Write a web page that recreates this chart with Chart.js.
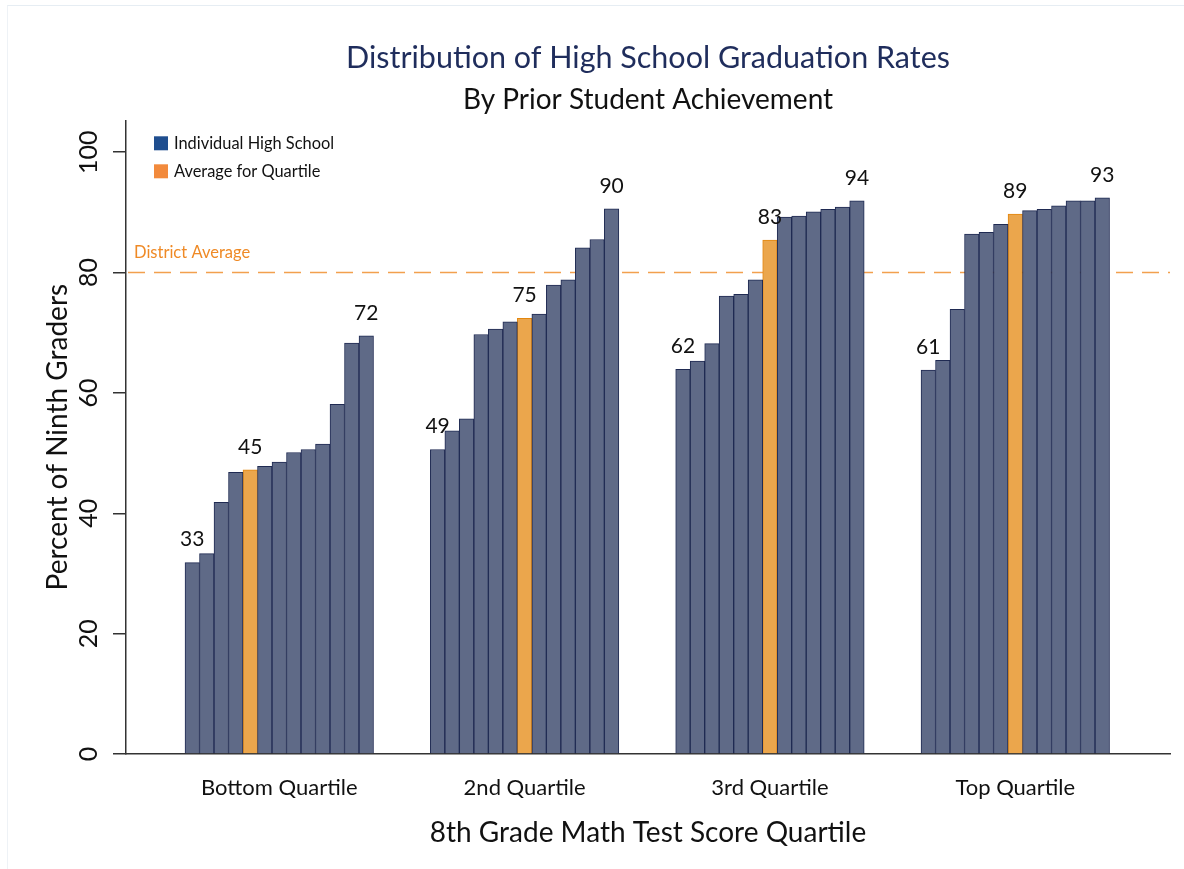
<!DOCTYPE html>
<html lang="en">
<head>
    <meta charset="UTF-8">
    <title>Distribution of High School Graduation Rates</title>
    <script src="https://cdn.jsdelivr.net/npm/chart.js"></script>
    <style>
        body { margin: 0; background: #fff; }
        .wrap { position: relative; width: 1184px; height: 869px; }
        .frame { position: absolute; left: 7px; top: 5px; right: 0; bottom: 0;
                 border-top: 1px solid #e6edf3; border-left: 1px solid #eef2f6; pointer-events: none; }
    </style>
</head>
<body>
<div class="wrap">
    <canvas id="chart"></canvas>
    <div class="frame"></div>
</div>

<script>
    // Graduation rates per school, sorted within each quartile
    const quartiles = ['Bottom Quartile', '2nd Quartile', '3rd Quartile', 'Top Quartile'];
    const bottomRates = [31.8, 33.3, 41.8, 46.8, 47.2, 47.8, 48.5, 50.1, 50.6, 51.5, 58.1, 68.3, 69.5];
    const secondRates = [50.6, 53.7, 55.7, 69.7, 70.6, 71.8, 72.4, 73.1, 77.9, 78.8, 84.1, 85.5, 90.6];
    const thirdRates  = [63.9, 65.3, 68.2, 76.1, 76.4, 78.8, 85.4, 89.2, 89.4, 90.1, 90.5, 90.9, 91.9];
    const topRates    = [63.8, 65.4, 73.9, 86.4, 86.7, 88.0, 89.7, 90.3, 90.5, 91.1, 91.9, 91.9, 92.4];
    const averageIndex = [4, 6, 6, 6];   // which bar in each quartile is the quartile average

    // numbers printed above the lowest, average and highest bar
    const lowLabels  = [33, 49, 62, 61];
    const avgLabels  = [45, 75, 83, 89];
    const highLabels = [72, 90, 94, 93];

    const districtAverage = 80;
    const yTicks = [0, 20, 40, 60, 80, 100];

    // bar slots along the x axis, in bar widths
    const FIRST_BAR = 4.57, GROUP_PITCH = 16.92, X_MAX = 72;
    const slotX = (g, i) => FIRST_BAR + g * GROUP_PITCH + i;

    const groups = [bottomRates, secondRates, thirdRates, topRates];
    const schoolPoints = [];
    const averagePoints = [];
    groups.forEach((rates, g) => {
        rates.forEach((v, i) => {
            (i === averageIndex[g] ? averagePoints : schoolPoints).push({ x: slotX(g, i), y: v });
        });
    });

    Chart.defaults.font.family = 'Lato';
    Chart.defaults.color = '#111';

    const overlay = {
        id: 'overlay',
        beforeDatasetsDraw(chart) {
            const { ctx, chartArea, scales: { y } } = chart;
            const py = y.getPixelForValue(districtAverage);
            ctx.save();
            ctx.strokeStyle = '#f2a04e';
            ctx.lineWidth = 1.5;
            ctx.setLineDash([17, 9]);
            ctx.beginPath();
            ctx.moveTo(chartArea.left + 2, py);
            ctx.lineTo(chartArea.right, py);
            ctx.stroke();
            ctx.setLineDash([]);
            ctx.fillStyle = '#ef8a26';
            ctx.font = '16.5px Lato';
            ctx.textBaseline = 'middle';
            ctx.fillText('District Average', chartArea.left + 8, py - 20);
            ctx.restore();
        },
        afterDatasetsDraw(chart) {
            const { ctx, chartArea, scales: { x, y } } = chart;
            ctx.save();
            // value labels
            ctx.font = '21px Lato';
            ctx.fillStyle = '#111';
            ctx.textAlign = 'center';
            ctx.textBaseline = 'middle';
            groups.forEach((rates, g) => {
                [[0, lowLabels[g]], [averageIndex[g], avgLabels[g]], [rates.length - 1, highLabels[g]]].forEach(([i, txt]) => {
                    ctx.fillText(String(txt), x.getPixelForValue(slotX(g, i)), y.getPixelForValue(rates[i]) - 23);
                });
            });
            // legend
            const items = [['Individual High School', '#1f4e8f'], ['Average for Quartile', '#f28a3c']];
            ctx.font = '16.4px Lato';
            ctx.textAlign = 'left';
            items.forEach(([text, color], k) => {
                const top = chartArea.top + 16 + k * 28;
                ctx.fillStyle = color;
                ctx.fillRect(chartArea.left + 28, top, 14, 14);
                ctx.fillStyle = '#111';
                ctx.fillText(text, chartArea.left + 48, top + 7);
            });
            ctx.restore();
        }
    };

    new Chart(document.getElementById('chart'), {
        type: 'bar',
        data: {
            datasets: [{
                label: 'Individual High School',
                data: schoolPoints,
                backgroundColor: '#5f6a87',
                borderColor: '#1f2a52',
                borderWidth: 1,
                grouped: false,
                barPercentage: 1,
                categoryPercentage: 1
            }, {
                label: 'Average for Quartile',
                data: averagePoints,
                backgroundColor: '#eba64c',
                borderColor: '#e3870f',
                borderWidth: 1,
                grouped: false,
                barPercentage: 1,
                categoryPercentage: 1
            }]
        },
        options: {
            responsive: true,
            maintainAspectRatio: false,
            animation: false,
            layout: { padding: { left: 0, right: 14, top: 0, bottom: 0 } },
            plugins: {
                legend: { display: false },
                tooltip: { enabled: false },
                title: {
                    display: true,
                    fullSize: false,
                    text: 'Distribution of High School Graduation Rates',
                    color: '#1f2d5c',
                    font: { size: 30.5, weight: 'normal', lineHeight: 1.2 },
                    padding: { top: 39.7, bottom: 7 }
                },
                subtitle: {
                    display: true,
                    fullSize: false,
                    text: 'By Prior Student Achievement',
                    color: '#111',
                    font: { size: 28, weight: 'normal', lineHeight: 1.2 },
                    padding: { top: 0, bottom: 3.4 }
                }
            },
            scales: {
                x: {
                    type: 'linear',
                    offset: false,
                    bounds: 'data',
                    min: 0,
                    max: X_MAX,
                    grid: { display: false, offset: false },
                    border: { display: true, color: '#333', width: 1.5 },
                    afterBuildTicks: s => { s.ticks = quartiles.map((q, g) => ({ value: slotX(g, 6) })); },
                    ticks: {
                        autoSkip: false,
                        maxRotation: 0,
                        padding: 13,
                        font: { size: 22 },
                        callback: (v, i) => quartiles[i]
                    },
                    title: {
                        display: true,
                        text: '8th Grade Math Test Score Quartile',
                        font: { size: 28, lineHeight: 1.2 },
                        padding: { top: 0, bottom: 19.2 }
                    },
                    afterFit: s => { s.height = 115; }
                },
                y: {
                    min: 0,
                    max: 105.3,
                    afterBuildTicks: s => { s.ticks = yTicks.map(v => ({ value: v })); },
                    grid: { drawOnChartArea: false, tickLength: 13, color: '#333', lineWidth: 1.5 },
                    border: { display: true, color: '#333', width: 1.5 },
                    ticks: {
                        minRotation: 90,
                        maxRotation: 90,
                        crossAlign: 'center',
                        padding: 2,
                        font: { size: 25 }
                    },
                    title: {
                        display: true,
                        text: 'Percent of Ninth Graders',
                        font: { size: 28, lineHeight: 1.2 },
                        padding: { top: 41.2, bottom: 0 }
                    },
                    afterFit: s => { s.width = 126; }
                }
            }
        },
        plugins: [overlay]
    });
</script>
</body>
</html>
